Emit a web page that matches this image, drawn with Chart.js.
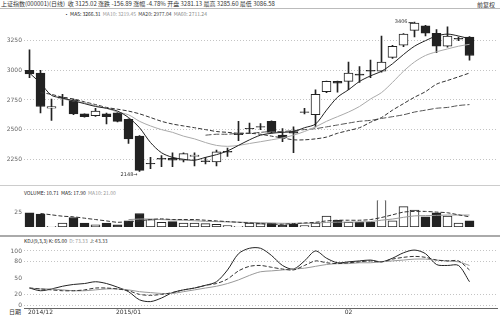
<!DOCTYPE html>
<html>
<head>
<meta charset="utf-8">
<script src="https://cdn.jsdelivr.net/npm/chart.js@4.4.1/dist/chart.umd.min.js"></script>
<style>
  body { margin: 0; width: 500px; height: 315px; overflow: hidden; position: relative; background: #fff;
         font-family: "Noto Sans CJK SC", "DejaVu Sans", sans-serif; }
  canvas { position: absolute; left: 0; }
  .t { position: absolute; white-space: nowrap; font-size: 6px; line-height: 7px; color: #333; }
  .hl { position: absolute; left: 0; width: 500px; }
</style>
</head>
<body>

<div class="t" style="left:1px;top:0px">上证指数(000001)(日线)&nbsp; 收 3125.02 涨跌 -156.89 涨幅 -4.78% 开盘 3281.13 最高 3285.60 最低 3086.58</div>
<div class="t" style="right:5px;top:1px">前复权</div>
<div class="hl" style="top:8px;border-top:1px solid #bbb"></div>
<div class="t" style="left:64px;top:10px;font-size:5px">
  <span style="color:#222">· MA5: 3266.31</span>&nbsp;
  <span style="color:#999">MA10: 3219.45</span>&nbsp;
  <span style="color:#444">MA20: 2977.04</span>&nbsp;
  <span style="color:#888">MA60: 2711.24</span>
</div>
<div class="hl" style="top:185px;border-top:1px solid #ccc"></div>
<div class="t" style="left:24px;top:189px;font-size:5px">
  <span style="color:#222">VOLUME: 10.71&nbsp; MA5: 17.90</span>&nbsp;
  <span style="color:#999">MA10: 21.00</span>
</div>
<div class="hl" style="top:235px;border-top:2px solid #aaa"></div>
<div class="t" style="left:24px;top:237px;font-size:5px">
  <span style="color:#222">KDJ(9,3,3) K: 65.00</span>&nbsp;
  <span style="color:#999">D: 73.33</span>&nbsp;
  <span style="color:#444">J: 43.33</span>
</div>
<div class="t" style="left:9px;top:308px">日期</div>

<canvas id="price" style="top:10px" width="500" height="173"></canvas>
<canvas id="volume" style="top:195px" width="500" height="39"></canvas>
<canvas id="kdj" style="top:238px" width="500" height="77"></canvas>

<script>
// trading days (43 slots, last two empty), with the month tick labels
const dayLabels = ['', '2014/12', '', '', '', '', '', '', '', '2015/01',
  '', '', '', '', '', '', '', '', '', '', '', '', '', '', '', '', '', '', '', '02',
  '', '', '', '', '', '', '', '', '', '', '', '', ''];

const open  = [3000, 2977, 2680, 2766, 2750, 2633, 2617, 2633, 2641, 2586, 2445, 2211, 2250, 2258, 2242, 2273, 2230, 2227, 2310, 2458,
  2505, 2520, 2570, 2453, 2484, 2645, 2625, 2820, 2906, 2906, 2969, 3000, 2992, 3109, 3211, 3336, 3375, 3312, 3203, 3262, 3281];
const high  = [3172, 3000, 2758, 2797, 2758, 2633, 2680, 2640, 2645, 2590, 2450, 2266, 2281, 2305, 2305, 2305, 2266, 2328, 2344, 2570,
  2555, 2550, 2575, 2508, 2523, 2680, 2836, 2910, 2910, 3070, 3031, 3086, 3289, 3210, 3310, 3406, 3380, 3344, 3367, 3280, 3285];
const low   = [2937, 2641, 2578, 2703, 2625, 2605, 2612, 2547, 2565, 2383, 2148, 2170, 2187, 2187, 2227, 2195, 2211, 2195, 2273, 2406,
  2469, 2500, 2470, 2398, 2305, 2633, 2523, 2812, 2815, 2836, 2898, 2937, 2985, 3100, 3200, 3281, 3289, 3148, 3195, 3250, 3086];
const close = [2969, 2695, 2695, 2770, 2633, 2609, 2656, 2609, 2570, 2422, 2156, 2215, 2258, 2242, 2297, 2285, 2236, 2312, 2316, 2463,
  2510, 2526, 2477, 2430, 2469, 2650, 2797, 2906, 2891, 2977, 2958, 2992, 3070, 3203, 3305, 3398, 3312, 3203, 3289, 3270, 3125];

const ma5  = [2977, 2891, 2789, 2766, 2742, 2719, 2695, 2680, 2656, 2602, 2516, 2391, 2305, 2266, 2250, 2242, 2266, 2289, 2320, 2367,
  2414, 2453, 2469, 2477, 2484, 2516, 2547, 2664, 2773, 2836, 2906, 2953, 2992, 3055, 3133, 3203, 3250, 3289, 3305, 3289, 3266];
const ma10 = [null, null, null, 2758, 2742, 2727, 2703, 2680, 2648, 2625, 2570, 2531, 2500, 2477, 2445, 2422, 2391, 2367, 2359, 2367,
  2383, 2398, 2414, 2430, 2453, 2484, 2523, 2570, 2609, 2648, 2695, 2758, 2812, 2898, 2992, 3070, 3125, 3156, 3180, 3203, 3219];
const ma20 = [null, 2812, 2797, 2773, 2758, 2734, 2711, 2687, 2672, 2656, 2633, 2602, 2570, 2547, 2531, 2516, 2500, 2484, 2477, 2469,
  2469, 2461, 2445, 2430, 2414, 2414, 2422, 2437, 2469, 2492, 2516, 2562, 2602, 2664, 2719, 2773, 2820, 2883, 2914, 2945, 2977];
const ma60 = [null, null, null, null, null, null, null, null, null, null, null, null, null, null, null, null, 2453, 2461, 2461, 2469,
  2469, 2477, 2484, 2484, 2492, 2500, 2508, 2523, 2539, 2555, 2570, 2578, 2594, 2609, 2625, 2648, 2664, 2680, 2687, 2703, 2711];

const volume = [25, 22.6, 1.2, 7.1, 16.7, 7.1, 3.6, 7.1, 3.6, 10.7, 23.8, 13.1, 8.3, 9.5, 7.1, 7.1, 6, 4.8, 2.4, 1.2,
  7.1, 6, 7.1, 3.6, 4.8, 2.4, 7.1, 19, 11.9, 8.3, 8.3, 8.3, 60, 10.7, 35.7, 29.8, 17.9, 25, 19, 7.1, 10.7];
const volMa5  = [null, 23.8, 21.4, 19, 17.9, 15.5, 13.1, 10.7, 8.3, 9.5, 10.7, 13.1, 14.3, 13.1, 13.1, 13.1, 11.9, 10.7, 9.5, 8.3,
  7.1, 6, 4.8, 4.8, 6, 7.1, 8.3, 10.7, 11.9, 11.9, 11.9, 13.1, 16.7, 21.4, 26.2, 27.4, 27.4, 26.2, 25, 21.4, 17.9];
const volMa10 = [null, null, null, null, null, null, null, null, null, 13, 14, 14, 13, 12.5, 12, 11, 10, 9.5, 9, 8.5,
  8, 7.5, 7, 6.5, 6.5, 6.5, 7, 8, 8.5, 8.5, 9, 9.5, 12, 14, 17, 19.5, 20, 20.5, 21, 21, 21];

const kLine = [31.7, 30, 28.3, 26.7, 26.7, 28.3, 31.7, 31.7, 30, 26.7, 20, 18.3, 20, 23.3, 28.3, 31.7, 36.7, 40, 48.3, 63.3,
  71.7, 73.3, 70, 66.7, 65, 73.3, 81.7, 78.3, 76.7, 78.3, 80, 81.7, 80, 85, 88.3, 90, 88.3, 83.3, 81.7, 81.7, 65];
const dLine = [31.7, 30, 30, 28.3, 26.7, 26.7, 28.3, 30, 30, 28.3, 25, 23.3, 21.7, 21.7, 25, 28.3, 31.7, 35, 40, 46.7,
  55, 61.7, 63.3, 65, 66.7, 68.3, 71.7, 75, 76.7, 76.7, 78.3, 78.3, 80, 81.7, 83.3, 85, 85, 83.3, 81.7, 80, 73.3];
const jLine = [31.7, 26.7, 30, 35, 38.3, 40, 43.3, 40, 33.3, 25, 10, 6.7, 13.3, 23.3, 28.3, 31.7, 36.7, 43.3, 65, 95,
  105, 105, 91.7, 73.3, 66.7, 81.7, 100, 86.7, 78.3, 80, 81.7, 83.3, 80, 86.7, 96.7, 101.7, 95, 75, 73.3, 73.3, 43.3];

const priceTicks = [2250, 2500, 2750, 3000, 3250];
const volTicks = [25];
const kdjTicks = [0, 20, 50, 80, 100];

const INK = '#222';
const tickFont = { family: 'DejaVu Sans', size: 6 };

// candle colours: hollow when up, solid when down, tiny bodies drawn as a dark dash
function bodyFill(i) {
  if (Math.abs(close[i] - open[i]) < 12) return INK;
  return close[i] >= open[i] ? '#fff' : INK;
}

function xAxis(show) {
  return {
    type: 'category', offset: true, display: show,
    grid: { display: false, drawTicks: false },
    border: { display: show, color: '#666' },
    ticks: { autoSkip: false, maxRotation: 0, font: tickFont, color: '#333', padding: 1,
      callback: (v, i) => dayLabels[i] },
    afterFit: s => { s.height = 7; }
  };
}

function yAxis(min, max, ticks, gridOn) {
  return {
    min: min, max: max,
    afterFit: s => { s.width = 24; },
    afterBuildTicks: s => { s.ticks = ticks.map(v => ({ value: v })); },
    border: { display: false, dash: [1, 2] },
    grid: { drawTicks: false, lineWidth: 1,
      color: c => (gridOn.includes(c.tick.value) ? '#c4c4c4' : 'rgba(0,0,0,0)') },
    ticks: { font: tickFont, color: '#666', padding: 2, callback: v => String(v) }
  };
}

const common = {
  responsive: false, animation: false, events: [],
  layout: { padding: { left: 0, right: 3, top: 0, bottom: 0 } },
  plugins: { legend: { display: false }, tooltip: { enabled: false } }
};

// high / low markers on the price panel
const markPlugin = {
  id: 'marks',
  afterDatasetsDraw(chart) {
    const { ctx, scales: { x, y } } = chart;
    const hi = high.indexOf(Math.max(...high));
    const lo = low.indexOf(Math.min(...low));
    ctx.save();
    ctx.font = '5px "DejaVu Sans"';
    ctx.fillStyle = '#333';
    ctx.strokeStyle = '#333';
    ctx.textAlign = 'right';
    ctx.textBaseline = 'middle';
    const hx = x.getPixelForValue(hi), hy = y.getPixelForValue(high[hi]);
    ctx.fillText(String(high[hi]), hx - 7, hy);
    ctx.beginPath(); ctx.moveTo(hx - 6, hy + 0.5); ctx.lineTo(hx - 1, hy + 0.5); ctx.stroke();
    const lx = x.getPixelForValue(lo), ly = y.getPixelForValue(low[lo]);
    ctx.fillText(low[lo] + '→', lx - 2, ly + 3);
    ctx.restore();
  }
};

function maLine(data, color, dash) {
  return { type: 'line', data: data, borderColor: color, borderWidth: 1, borderDash: dash,
    pointRadius: 0, tension: 0.3, fill: false, order: 0 };
}

new Chart(document.getElementById('price'), {
  type: 'bar',
  data: {
    labels: dayLabels,
    datasets: [
      maLine(ma5, '#222', []),
      maLine(ma10, '#aaa', []),
      maLine(ma20, '#333', [4, 2]),
      maLine(ma60, '#555', [6, 2]),
      { data: open.map((o, i) => [o, close[i]]), grouped: false, order: 1,
        barThickness: 9, borderWidth: 1, borderSkipped: false, borderColor: INK,
        backgroundColor: c => bodyFill(c.dataIndex) },
      { data: low.map((l, i) => [l, high[i]]), grouped: false, order: 2,
        barThickness: 1, borderWidth: 0, backgroundColor: INK }
    ]
  },
  options: Object.assign({}, common, {
    scales: { x: xAxis(false), y: yAxis(2109, 3461, priceTicks, priceTicks) }
  }),
  plugins: [markPlugin]
});

new Chart(document.getElementById('volume'), {
  type: 'bar',
  data: {
    labels: dayLabels,
    datasets: [
      maLine(volMa5, '#333', [4, 2]),
      maLine(volMa10, '#999', []),
      { data: volume, order: 1, barThickness: 9, borderWidth: 1, borderSkipped: false, borderColor: INK,
        backgroundColor: c => (close[c.dataIndex] >= open[c.dataIndex] ? '#fff' : INK) }
    ]
  },
  options: Object.assign({}, common, {
    scales: { x: xAxis(false), y: yAxis(0, 46.4, volTicks, []) }
  })
});

new Chart(document.getElementById('kdj'), {
  type: 'line',
  data: {
    labels: dayLabels,
    datasets: [
      maLine(kLine, '#333', [4, 2]),
      maLine(dLine, '#999', []),
      maLine(jLine, '#222', [])
    ]
  },
  options: Object.assign({}, common, {
    scales: { x: xAxis(true), y: yAxis(-5.1, 113.6, kdjTicks, [0, 20, 80, 100]) }
  })
});
</script>
</body>
</html>
